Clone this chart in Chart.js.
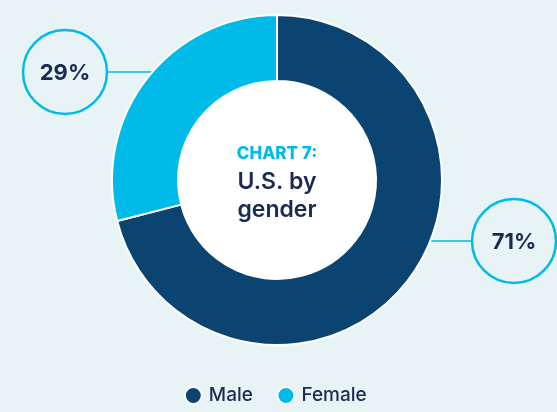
<!DOCTYPE html>
<html>
<head>
<meta charset="utf-8">
<script src="https://cdn.jsdelivr.net/npm/chart.js@4.4.0/dist/chart.umd.min.js"></script>
<style>
  html, body { margin: 0; padding: 0; background: #e8f3f6; }
  #wrap { width: 557px; height: 412px; }
</style>
</head>
<body>
<div id="wrap"><canvas id="myChart" width="557" height="412"></canvas></div>
<script>
const categories = ["Male", "Female"];
const shares = [71, 29];
const centerTitle = "CHART 7:";
const centerLines = ["U.S. by", "gender"];

const NAVY = "#0b4471";
const CYAN = "#00bbe7";
const TEXT = "#1b2a52";
const BG = "#e8f3f6";

// callout bubbles: offset from donut centre, in units of the outer radius
const callouts = [
    { index: 0, dx: 237 / 166, dy: 61 / 166 },
    { index: 1, dx: -212 / 166, dy: -108 / 166 }
];

const calloutPlugin = {
    id: "callouts",
    beforeDatasetsDraw(chart) {
        const meta = chart.getDatasetMeta(0);
        const arc = meta.data[0];
        const { x, y, outerRadius, innerRadius } = arc.getProps(["x", "y", "outerRadius", "innerRadius"], true);
        const r = outerRadius + 1;
        const ctx = chart.ctx;
        ctx.save();
        // white hole
        ctx.fillStyle = "#ffffff";
        ctx.beginPath();
        ctx.arc(x, y, innerRadius + 1, 0, Math.PI * 2);
        ctx.fill();
        callouts.forEach(c => {
            const bx = x + c.dx * r;
            const by = y + c.dy * r;
            const br = 42;
            const dy = by - y;
            const edge = Math.sqrt(Math.max(r * r - dy * dy, 0));
            const ex = bx < x ? x - edge + 4 : x + edge - 4;
            ctx.strokeStyle = CYAN;
            ctx.lineWidth = 1.5;
            ctx.beginPath();
            ctx.moveTo(bx < x ? bx + br : bx - br, by);
            ctx.lineTo(ex, by);
            ctx.stroke();
            ctx.beginPath();
            ctx.arc(bx, by, br, 0, Math.PI * 2);
            ctx.fillStyle = BG;
            ctx.fill();
            ctx.lineWidth = 2.5;
            ctx.stroke();
            ctx.fillStyle = TEXT;
            ctx.font = "bold 22px Inter";
            ctx.textAlign = "center";
            ctx.textBaseline = "middle";
            ctx.fillText(shares[c.index] + "%", bx, by + 1);
        });
        ctx.restore();
    },
    afterDatasetsDraw(chart) {
        const arc = chart.getDatasetMeta(0).data[0];
        const { x, y } = arc.getProps(["x", "y"], true);
        const ctx = chart.ctx;
        ctx.save();
        ctx.textAlign = "center";
        ctx.textBaseline = "middle";
        ctx.fillStyle = CYAN;
        ctx.font = "800 17px Inter";
        ctx.fillText(centerTitle, x, y - 26);
        ctx.fillStyle = TEXT;
        ctx.font = "600 23px Inter";
        ctx.fillText(centerLines[0], x, y + 2);
        ctx.fillText(centerLines[1], x, y + 30);
        ctx.restore();
    }
};

new Chart(document.getElementById("myChart"), {
    type: "doughnut",
    data: {
        labels: categories,
        datasets: [{
            data: shares,
            backgroundColor: [NAVY, CYAN],
            borderColor: "#ffffff",
            borderWidth: 2,
            hoverOffset: 0,
            hoverBorderWidth: 2
        }]
    },
    options: {
        responsive: false,
        animation: false,
        cutout: "60%",
        layout: { padding: { top: 1, bottom: -3, left: 111, right: 114 } },
        plugins: {
            tooltip: { enabled: false },
            legend: {
                position: "bottom",
                labels: {
                    usePointStyle: true,
                    pointStyle: "circle",
                    boxWidth: 12,
                    boxHeight: 12,
                    padding: 27,
                    color: TEXT,
                    font: { family: "Inter", size: 19, weight: "500" }
                }
            }
        }
    },
    plugins: [calloutPlugin]
});
</script>
</body>
</html>
